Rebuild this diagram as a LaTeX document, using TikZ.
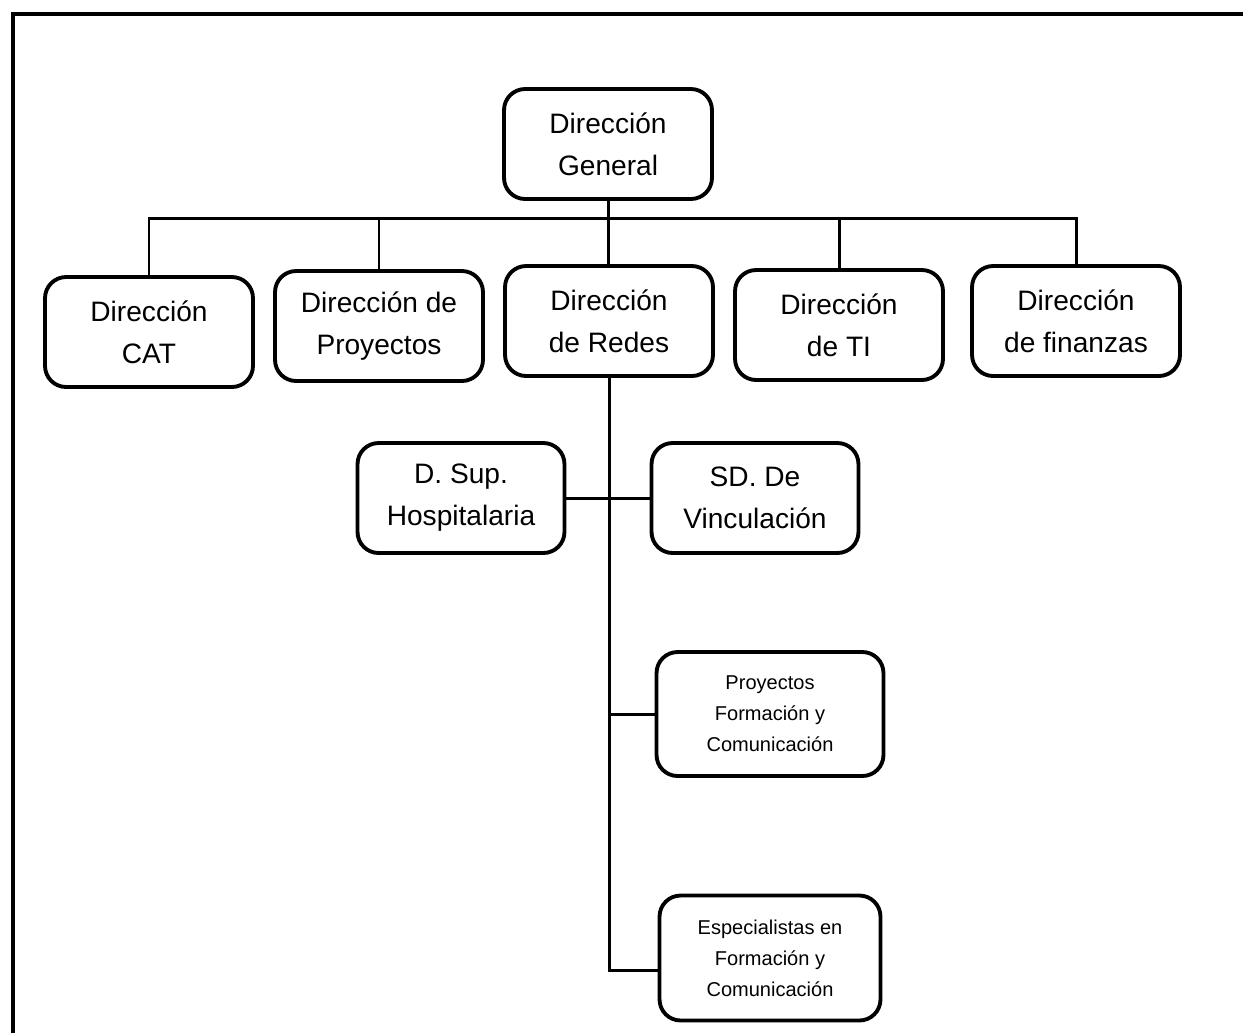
\documentclass[tikz,border=0pt]{standalone}
\usepackage{fontspec}
\setmainfont{Liberation Sans}
\usetikzlibrary{positioning,calc}

\begin{document}
\begin{tikzpicture}[x=0.02cm, y=-0.02cm,
  box/.style={draw, rounded corners=12pt, line width=2.2pt, align=center,
    minimum width=4.16cm, minimum height=2.2cm,
    font=\fontsize{16}{24}\selectfont},
  sbox/.style={box, font=\fontsize{11.4}{17.6}\selectfont},
  lnk/.style={line width=1.7pt}]
\useasboundingbox (0,0) rectangle (1243,1032);
\draw[line width=2.3pt] (13,1045) -- (13,14) -- (1255,14);
\node[box] (DG) at (608,144) {Dirección\\General};
\node[box] (CAT) at (149,332) {Dirección\\CAT};
\node[box] (PRO) at (379,326) {Dirección de\\Proyectos};
\node[box] (RED) at (609,321) {Dirección\\de Redes};
\node[box] (TI) at (839,325) {Dirección\\de TI};
\node[box] (FIN) at (1076,321) {Dirección\\de finanzas};
\node[box, minimum width=4.14cm] (HOS) at (461,498) {D. Sup.\\Hospitalaria};
\node[box, minimum width=4.14cm] (VIN) at (755,498) {SD. De\\Vinculación};
\node[sbox, minimum width=4.54cm, minimum height=2.48cm] (PFC) at (770,714) {Proyectos\\Formación y\\Comunicación};
\node[sbox, minimum width=4.42cm, minimum height=2.5cm] (ESP) at (770,958) {Especialistas en\\Formación y\\Comunicación};
\coordinate (bus) at (608,218);
\coordinate (E) at (RED.south |- 0,970);
\draw[lnk] (DG.south) -- (DG.south |- RED.north);
\draw[lnk] (CAT.north) |- (bus) -| (FIN.north);
\draw[lnk] (PRO.north) -- (PRO.north |- bus);
\draw[lnk] (TI.north) -- (TI.north |- bus);
\draw[lnk] (RED.south) -- (E) -- (E -| ESP.west);
\draw[lnk] (HOS.east) -- (VIN.west);
\draw[lnk] (PFC.west) -- (PFC.west -| E);
\end{tikzpicture}
\end{document}
